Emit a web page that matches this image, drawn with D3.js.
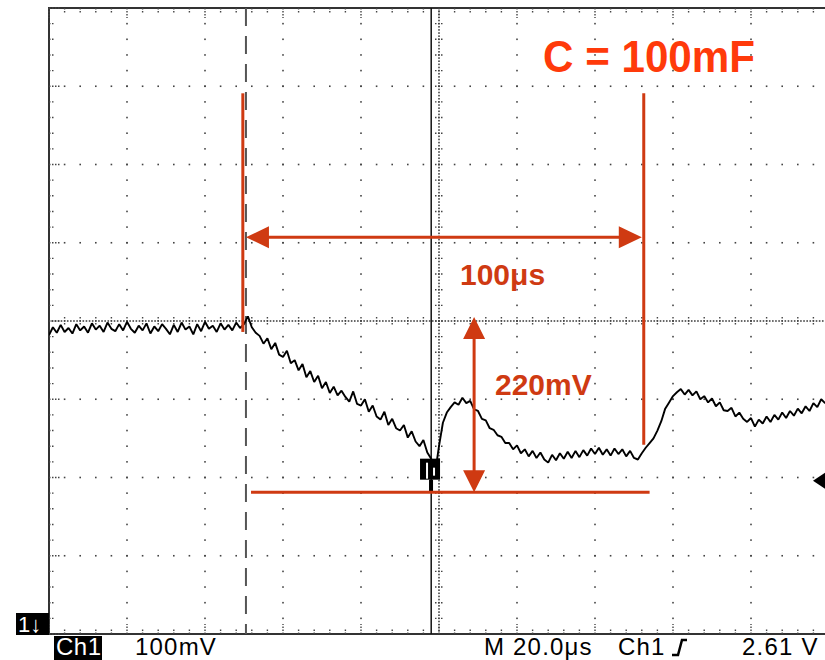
<!DOCTYPE html>
<html>
<head>
<meta charset="utf-8">
<script src="https://cdn.jsdelivr.net/npm/d3@7"></script>
<style>
    body { margin: 0; background: #fff; }
    svg { display: block; font-family: "Liberation Sans", Arial, sans-serif; }
</style>
</head>
<body>
<svg id="scope" width="825" height="660"></svg>
<script>
// time axis in microseconds (20us / div, 10 divisions)
const timeDomain = [-100, 100];
const timeDivision = 20;

// voltage axis in millivolts (100mV / div, 8 divisions)
const voltDomain = [-400, 400];
const voltDivision = 100;

// trace samples (mV), one every microsecond starting at -100us
const traceStart = -100;
const traceStep = 1;
const traceMv = [
    -18, -8, -15, -5, -14, -9, -16, -4, -12, -7,
    -15, -3, -11, -6, -14, -2, -10, -13, -4, -12,
    -1, -10, -15, -6, -12, -3, -16, -7, -13, -4,
    -10, -17, -5, -14, -2, -11, -7, -17, -4, -13,
    -1, -10, -6, -14, -3, -11, -5, -12, -2, -9,
    -4, 6, -8, -15, -19, -29, -22, -36, -28, -43,
    -46, -38, -54, -50, -63, -55, -72, -64, -78, -70,
    -86, -78, -92, -84, -95, -89, -97, -103, -90, -106,
    -108, -100, -116, -108, -122, -126, -116, -133, -125, -137,
    -140, -133, -149, -141, -154, -160, -152, -168, -176, -194,
    -160, -130, -117, -110, -104, -107, -98, -105, -102, -113,
    -115, -125, -127, -137, -139, -146, -148, -156, -156, -164,
    -159, -169, -164, -173, -166, -175, -168, -177, -181, -171,
    -178, -169, -176, -167, -175, -166, -174, -165, -172, -163,
    -170, -162, -171, -164, -172, -163, -170, -164, -173, -166,
    -175, -177, -169, -162, -156, -150, -140, -128, -112, -104,
    -96, -91, -87, -94, -88, -95, -90, -100, -96, -104,
    -99, -109, -104, -114, -115, -111, -122, -117, -125, -129,
    -124, -135, -126, -131, -122, -129, -120, -126, -117, -124,
    -115, -121, -112, -118, -109, -115, -105, -110, -100, -105,
    -98
];

// cursors and scope markers
const dashedCursorTime = -49.5;
const solidCursorTime = -2;
const triggerMarkTime = -2.3;
const triggerMarkVolt = -190;
const levelMarkVolt = -204;

// red annotations
const titleText = 'C = 100mF';
const leftMarkerTime = -50.3;
const rightMarkerTime = 52.5;
const markerTopVolt = 291;
const leftMarkerBottomVolt = -14;
const rightMarkerBottomVolt = -158;
const spanArrowVolt = 107;
const spanArrowTimes = [-49.5, 52];
const spanLabel = '100\u03bcs';
const dropArrowTime = 9;
const dropArrowVolts = [5, -219];
const dropLabel = '220mV';
const floorLineVolt = -219;
const floorLineTimes = [-48.2, 54];

// status bar texts
const channelBadge = '1\u2193';
const channelName = 'Ch1';
const voltsPerDiv = '100mV';
const timePerDiv = 'M 20.0\u03bcs';
const triggerSource = 'Ch1';
const triggerLevel = '2.61 V';

class ScopeChart {
    constructor() {
        this.svg = d3.select('#scope');
        // plot area of the scope screen
        this.x = d3.scaleLinear().domain(timeDomain).range([49, 829]);
        this.y = d3.scaleLinear().domain(voltDomain).range([634, 8]);
        this.red = '#cf3a12';

        this.drawGrid();
        this.drawCursors();
        this.drawTrace();
        this.drawMarkers();
        this.drawAnnotations();
        this.drawStatusBar();
    }

    // dotted graticule, center axes and frame
    drawGrid() {
        const x = this.x, y = this.y;
        const g = this.svg.append('g');

        const xMajor = d3.range(timeDomain[0], timeDomain[1] + 0.1, timeDivision);
        const yMajor = d3.range(voltDomain[0], voltDomain[1] + 0.1, voltDivision);
        const xMinor = d3.range(timeDomain[0], timeDomain[1] + 0.1, timeDivision / 5);
        const yMinor = d3.range(voltDomain[0], voltDomain[1] + 0.1, voltDivision / 5);
        const xFine = d3.range(timeDomain[0], timeDomain[1] + 0.1, timeDivision / 25);
        const yFine = d3.range(voltDomain[0], voltDomain[1] + 0.1, voltDivision / 25);

        // dots every fifth of a division along the grid lines
        let dots = [];
        xMajor.filter(t => t !== timeDomain[0] && t !== 0)
            .forEach(t => yMinor.forEach(v => dots.push([t, v])));
        yMajor.filter(v => Math.abs(v) !== 400 && v !== 0)
            .forEach(v => xMinor.forEach(t => dots.push([t, v])));
        // denser dots on the center axes
        xFine.forEach(t => dots.push([t, 0]));
        yFine.forEach(v => dots.push([0, v]));

        g.selectAll('.dot')
            .data(dots)
            .join('rect')
                .attr('class', 'dot')
                .attr('x', d => x(d[0]) - 0.8)
                .attr('y', d => y(d[1]) - 0.8)
                .attr('width', 1.6)
                .attr('height', 1.6)
                .attr('fill', '#444');

        // small ticks across the center axes
        g.selectAll('.htick')
            .data(xMinor)
            .join('line')
                .attr('class', 'htick')
                .attr('x1', d => x(d)).attr('x2', d => x(d))
                .attr('y1', y(0) - 4).attr('y2', y(0) + 4)
                .attr('stroke', '#444')
                .attr('stroke-width', 1.4)
                .attr('stroke-dasharray', '1.5,1.5');
        g.selectAll('.vtick')
            .data(yMinor)
            .join('line')
                .attr('class', 'vtick')
                .attr('y1', d => y(d)).attr('y2', d => y(d))
                .attr('x1', x(0) - 4).attr('x2', x(0) + 4)
                .attr('stroke', '#444')
                .attr('stroke-width', 1.4)
                .attr('stroke-dasharray', '1.5,1.5');

        // frame: left, top, bottom
        g.append('path')
            .attr('d', `M${x(timeDomain[1])},${y(400)}H${x(-100)}V${y(-400)}H${x(timeDomain[1])}`)
            .attr('fill', 'none')
            .attr('stroke', '#333')
            .attr('stroke-width', 2);

        // frame ticks pointing inwards
        g.selectAll('.ftop')
            .data(xMinor)
            .join('line')
                .attr('class', 'ftop')
                .attr('x1', d => x(d)).attr('x2', d => x(d))
                .attr('y1', y(400)).attr('y2', d => y(400) + (d % timeDivision === 0 ? 10 : 5))
                .attr('stroke', '#444')
                .attr('stroke-width', 1.4)
                .attr('stroke-dasharray', '1.5,1.5');
        g.selectAll('.fbottom')
            .data(xMinor)
            .join('line')
                .attr('class', 'fbottom')
                .attr('x1', d => x(d)).attr('x2', d => x(d))
                .attr('y1', y(-400)).attr('y2', d => y(-400) - (d % timeDivision === 0 ? 10 : 5))
                .attr('stroke', '#444')
                .attr('stroke-width', 1.4)
                .attr('stroke-dasharray', '1.5,1.5');
        g.selectAll('.fleft')
            .data(yMinor)
            .join('line')
                .attr('class', 'fleft')
                .attr('y1', d => y(d)).attr('y2', d => y(d))
                .attr('x1', x(-100)).attr('x2', d => x(-100) + (d % voltDivision === 0 ? 12 : 6))
                .attr('stroke', '#444')
                .attr('stroke-width', 1.4)
                .attr('stroke-dasharray', '1.5,1.5');
    }

    // dashed and solid vertical cursors
    drawCursors() {
        const x = this.x, y = this.y;
        this.svg.append('line')
            .attr('x1', x(dashedCursorTime)).attr('x2', x(dashedCursorTime))
            .attr('y1', y(400)).attr('y2', y(-400))
            .attr('stroke', '#555')
            .attr('stroke-width', 2)
            .attr('stroke-dasharray', '18,10');
        this.svg.append('line')
            .attr('x1', x(solidCursorTime)).attr('x2', x(solidCursorTime))
            .attr('y1', y(400)).attr('y2', y(-400))
            .attr('stroke', '#111')
            .attr('stroke-width', 1.5);
    }

    // the channel 1 waveform
    drawTrace() {
        const x = this.x, y = this.y;
        this.svg.append('clipPath')
            .attr('id', 'screen')
            .append('rect')
                .attr('x', x(-100)).attr('y', y(400))
                .attr('width', x(100) - x(-100)).attr('height', y(-400) - y(400));

        const line = d3.line()
            .x((d, i) => x(traceStart + i * traceStep))
            .y(d => y(d));

        this.svg.append('path')
            .datum(traceMv)
            .attr('clip-path', 'url(#screen)')
            .attr('d', line)
            .attr('fill', 'none')
            .attr('stroke', '#000')
            .attr('stroke-width', 1.9)
            .attr('stroke-linejoin', 'bevel');
    }

    // trigger position box and trigger level arrow
    drawMarkers() {
        const x = this.x, y = this.y;
        const tx = x(triggerMarkTime), ty = y(triggerMarkVolt);
        this.svg.append('rect')
            .attr('x', tx - 10).attr('y', ty - 11)
            .attr('width', 20).attr('height', 21)
            .attr('fill', '#000');
        this.svg.append('rect')
            .attr('x', tx - 4).attr('y', ty - 7)
            .attr('width', 2).attr('height', 16)
            .attr('fill', '#fff');
        this.svg.append('rect')
            .attr('x', tx + 3).attr('y', ty - 2)
            .attr('width', 2).attr('height', 8)
            .attr('fill', '#fff');
        this.svg.append('rect')
            .attr('x', tx - 1).attr('y', ty + 10)
            .attr('width', 4).attr('height', 12)
            .attr('fill', '#000');

        const ly = y(levelMarkVolt);
        this.svg.append('path')
            .attr('d', `M813,${ly}L825,${ly - 8}V${ly + 8}Z`)
            .attr('fill', '#000');
    }

    // red measurement lines, arrows and labels
    drawAnnotations() {
        const x = this.x, y = this.y, red = this.red;
        const g = this.svg.append('g');

        const redLine = (x1, y1, x2, y2) => g.append('line')
            .attr('x1', x1).attr('y1', y1).attr('x2', x2).attr('y2', y2)
            .attr('stroke', red)
            .attr('stroke-width', 3);

        // marker lines
        redLine(x(leftMarkerTime), y(markerTopVolt), x(leftMarkerTime), y(leftMarkerBottomVolt));
        redLine(x(rightMarkerTime), y(markerTopVolt), x(rightMarkerTime), y(rightMarkerBottomVolt));
        redLine(x(floorLineTimes[0]), y(floorLineVolt), x(floorLineTimes[1]), y(floorLineVolt));

        // horizontal double arrow (time span)
        const ay = y(spanArrowVolt);
        const ax1 = x(spanArrowTimes[0]), ax2 = x(spanArrowTimes[1]);
        redLine(ax1 + 10, ay, ax2 - 10, ay);
        g.append('path')
            .attr('d', `M${ax1},${ay}L${ax1 + 23},${ay - 11}V${ay + 11}Z` +
                `M${ax2},${ay}L${ax2 - 23},${ay - 11}V${ay + 11}Z`)
            .attr('fill', red);

        // vertical double arrow (voltage drop)
        const vx = x(dropArrowTime);
        const vy1 = y(dropArrowVolts[0]), vy2 = y(dropArrowVolts[1]);
        redLine(vx, vy1 + 10, vx, vy2 - 10);
        g.append('path')
            .attr('d', `M${vx},${vy1}L${vx - 11},${vy1 + 22}H${vx + 11}Z` +
                `M${vx},${vy2}L${vx - 11},${vy2 - 22}H${vx + 11}Z`)
            .attr('fill', red);

        // labels
        g.append('text')
            .attr('x', 543).attr('y', 72)
            .attr('font-size', 45)
            .attr('font-weight', 'bold')
            .attr('textLength', 212)
            .attr('lengthAdjust', 'spacingAndGlyphs')
            .attr('fill', '#ff3a0a')
            .text(titleText);
        g.append('text')
            .attr('x', 460).attr('y', 285)
            .attr('font-size', 30)
            .attr('font-weight', 'bold')
            .attr('fill', red)
            .text(spanLabel);
        g.append('text')
            .attr('x', 495).attr('y', 395)
            .attr('font-size', 30)
            .attr('font-weight', 'bold')
            .attr('fill', red)
            .text(dropLabel);
    }

    // readout line under the screen
    drawStatusBar() {
        const g = this.svg.append('g')
            .attr('font-size', 24)
            .attr('letter-spacing', 1.2);

        g.append('rect')
            .attr('x', 16).attr('y', 613).attr('width', 33).attr('height', 22)
            .attr('fill', '#000');
        g.append('text')
            .attr('x', 18).attr('y', 632)
            .attr('font-size', 22)
            .attr('letter-spacing', 0)
            .attr('fill', '#fff')
            .text(channelBadge);

        g.append('rect')
            .attr('x', 54).attr('y', 636).attr('width', 48).attr('height', 24)
            .attr('fill', '#000');
        g.append('text')
            .attr('x', 56).attr('y', 655)
            .attr('letter-spacing', 0.5)
            .attr('fill', '#fff')
            .text(channelName);

        g.append('text').attr('x', 135).attr('y', 655).text(voltsPerDiv);
        g.append('text').attr('x', 484).attr('y', 655).text(timePerDiv);
        g.append('text').attr('x', 618).attr('y', 655).text(triggerSource);
        g.append('text').attr('x', 742).attr('y', 655).text(triggerLevel);

        // rising edge symbol
        g.append('path')
            .attr('d', 'M672,655H678L682,640H687')
            .attr('fill', 'none')
            .attr('stroke', '#000')
            .attr('stroke-width', 2.5);
    }
}

new ScopeChart();
</script>
</body>
</html>
